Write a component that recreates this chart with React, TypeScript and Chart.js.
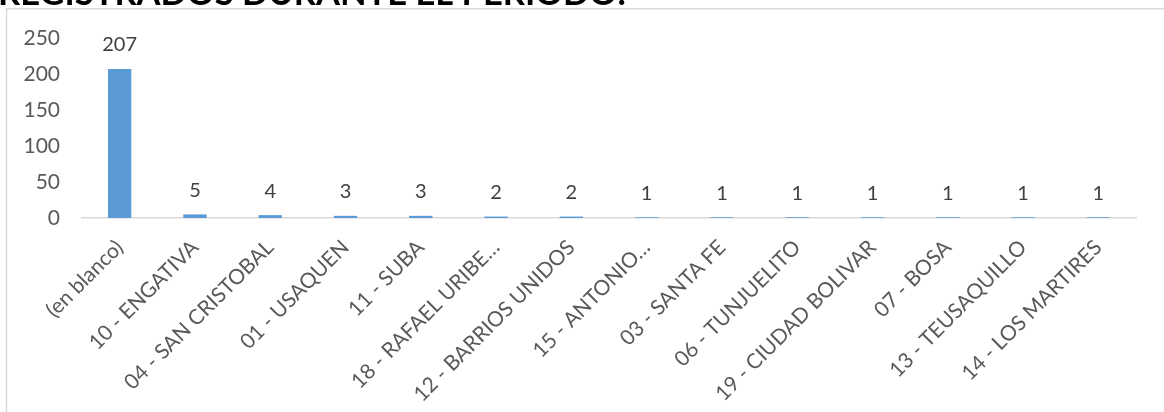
import React, { useEffect, useRef } from "react";
import { Chart, registerables } from "chart.js";

Chart.register(...registerables);

const TITLE = "REGISTRADOS DURANTE EL PERIODO:";

const localidades = [
  "(en blanco)",
  "10 - ENGATIVA",
  "04 - SAN CRISTOBAL",
  "01 - USAQUEN",
  "11 - SUBA",
  "18 - RAFAEL URIBE…",
  "12 - BARRIOS UNIDOS",
  "15 - ANTONIO…",
  "03 - SANTA FE",
  "06 - TUNJUELITO",
  "19 - CIUDAD BOLIVAR",
  "07 - BOSA",
  "13 - TEUSAQUILLO",
  "14 - LOS MARTIRES",
];

const registros = [207, 5, 4, 3, 3, 2, 2, 1, 1, 1, 1, 1, 1, 1];

const yTicks = [0, 50, 100, 150, 200, 250];

const FONT = "Lato, 'Open Sans', sans-serif";
const BAR_BLUE = "#5B9BD5";
const AXIS_GRAY = "#D9D9D9";
const TEXT_GRAY = "#595959";

// Page background, cut-off heading and the chart frame
const framePlugin = {
  id: "frame",
  beforeDraw(chart: any) {
    const { ctx, width, height } = chart;
    ctx.save();
    ctx.fillStyle = "#ffffff";
    ctx.fillRect(0, 0, width, height);
    ctx.fillStyle = "#000000";
    ctx.font = `bold 34.5px ${FONT}`;
    ctx.textBaseline = "alphabetic";
    ctx.textAlign = "left";
    ctx.fillText(TITLE, -2, 5);
    ctx.strokeStyle = AXIS_GRAY;
    ctx.lineWidth = 1.5;
    ctx.beginPath();
    ctx.moveTo(6.5, height + 2);
    ctx.lineTo(6.5, 8.75);
    ctx.lineTo(width + 2, 8.75);
    ctx.stroke();
    ctx.restore();
  },
};

// Value labels above each bar
const valueLabels = {
  id: "valueLabels",
  afterDatasetsDraw(chart: any) {
    const { ctx } = chart;
    const meta = chart.getDatasetMeta(0);
    const data = chart.data.datasets[0].data as number[];
    ctx.save();
    ctx.fillStyle = "#404040";
    ctx.font = `20px ${FONT}`;
    ctx.textAlign = "center";
    ctx.textBaseline = "alphabetic";
    meta.data.forEach((bar: any, i: number) => {
      ctx.fillText(String(data[i]), bar.x, bar.y - 17.5);
    });
    ctx.restore();
  },
};

export default function App() {
  const canvasRef = useRef<HTMLCanvasElement | null>(null);

  useEffect(() => {
    if (!canvasRef.current) return;
    const chart = new Chart(canvasRef.current, {
      type: "bar",
      data: {
        labels: localidades,
        datasets: [
          {
            data: registros,
            backgroundColor: BAR_BLUE,
            barPercentage: 1,
            categoryPercentage: 0.31,
          },
        ],
      },
      options: {
        responsive: false,
        animation: false,
        devicePixelRatio: 1,
        layout: { padding: { top: 38, left: 0, right: 28, bottom: 0 } },
        plugins: {
          legend: { display: false },
          title: { display: false },
          tooltip: { enabled: false },
        },
        scales: {
          x: {
            grid: { display: false, drawTicks: false },
            border: { display: true, color: AXIS_GRAY, width: 1.5 },
            ticks: {
              autoSkip: false,
              minRotation: 45,
              maxRotation: 45,
              padding: 17,
              color: TEXT_GRAY,
              font: { family: FONT, size: 21 },
            },
            afterFit(scale: any) {
              scale.height = 194;
            },
          },
          y: {
            min: 0,
            max: 250,
            grid: { display: false, drawTicks: false },
            border: { display: false },
            afterBuildTicks(scale: any) {
              scale.ticks = yTicks.map((v) => ({ value: v }));
            },
            ticks: {
              padding: 22,
              color: TEXT_GRAY,
              font: { family: FONT, size: 21 },
            },
            afterFit(scale: any) {
              scale.width = 82;
            },
          },
        },
      },
      plugins: [framePlugin, valueLabels],
    });
    return () => chart.destroy();
  }, []);

  return (
    <div
      style={{
        position: "fixed",
        left: 0,
        top: 0,
        width: 1164,
        height: 412,
        overflow: "hidden",
        background: "#ffffff",
      }}
    >
      <canvas ref={canvasRef} width={1164} height={412} style={{ display: "block" }} />
    </div>
  );
}
